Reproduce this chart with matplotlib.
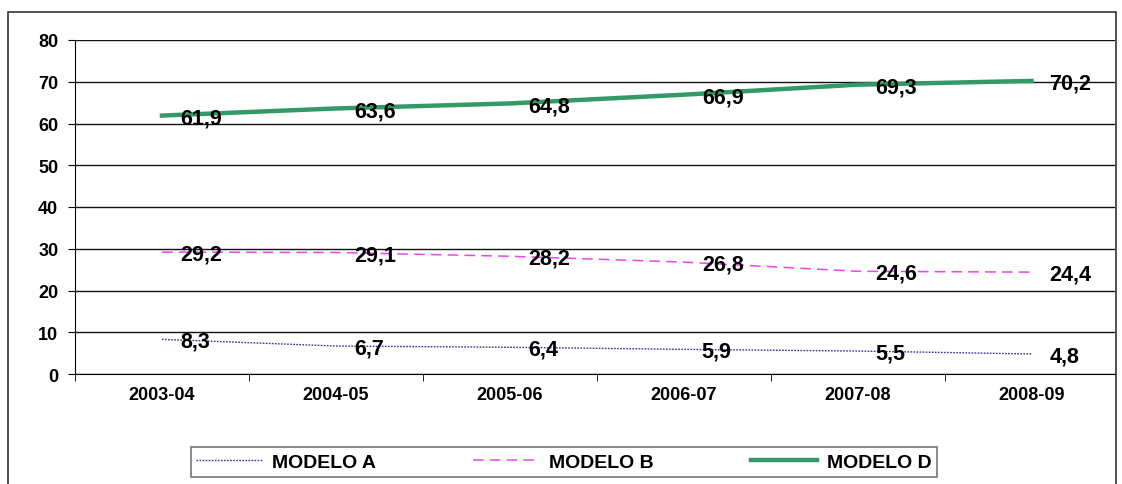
import numpy as np
import matplotlib.pyplot as plt
from matplotlib.patches import Rectangle
plt.rcParams.update({'font.family': ['Liberation Sans', 'DejaVu Sans'], 'font.weight': 'bold'})

years = ["2003-04", "2004-05", "2005-06", "2006-07", "2007-08", "2008-09"]
modelo_a = [8.3, 6.7, 6.4, 5.9, 5.5, 4.8]
modelo_b = [29.2, 29.1, 28.2, 26.8, 24.6, 24.4]
modelo_d = [61.9, 63.6, 64.8, 66.9, 69.3, 70.2]

labels = ["MODELO A", "MODELO B", "MODELO D"]
colors = ["#333399", "#ee44ee", "#339966"]

fig = plt.figure(figsize=(11.22, 4.85), dpi=100)
fig.patches.append(Rectangle((8/1122, -0.1), 1108/1122, 1.1 - 13/485, transform=fig.transFigure,
                             fill=False, edgecolor="#333333", linewidth=1.2))

ax = fig.add_axes([75/1122, 1 - 375/485, 1040/1122, 334/485])
x = np.arange(len(years))

ax.plot(x, modelo_a, color=colors[0], linestyle=(0, (1.2, 1.0)), linewidth=1.0, label=labels[0])
ax.plot(x, modelo_b, color=colors[1], linestyle=(0, (7, 4)), linewidth=1.1, label=labels[1])
ax.plot(x, modelo_d, color=colors[2], linewidth=3.2, label=labels[2])

for series in [modelo_a, modelo_b, modelo_d]:
    for i, v in enumerate(series):
        ax.annotate(str(v).replace(".", ","), (x[i], v), xytext=(13, -1.5), textcoords="offset points",
                    ha="left", va="center", fontsize=15.5, fontweight="bold")

ax.set_xlim(-0.5, len(years) - 0.5 - 0.02)
ax.set_ylim(0, 80)
ax.set_yticks(np.arange(0, 81, 10))
ax.set_xticks(x)
ax.set_xticklabels(years, fontsize=13, fontweight="bold")
ax.set_xticks(np.arange(-0.5, len(years) - 0.6, 1), minor=True)
ax.tick_params(axis="x", which="major", length=0, pad=9)
ax.tick_params(axis="x", which="minor", length=5, direction="out")
ax.tick_params(axis="y", labelsize=13, length=5, direction="out", pad=7)
for lab in ax.get_yticklabels():
    lab.set_fontweight("bold")
ax.grid(axis="y", color="#111111", linewidth=1.0)
ax.set_axisbelow(True)
for s in ["top", "right"]:
    ax.spines[s].set_visible(False)

leg = fig.legend(loc="center", bbox_to_anchor=(564/1122, 1 - 463/485), ncol=3, frameon=True,
                 fancybox=False, edgecolor="#555555", fontsize=14, handlelength=3.4,
                 handletextpad=0.5, columnspacing=5.0, borderpad=0.3, borderaxespad=0)
leg.get_frame().set_linewidth(1.2)
for t in leg.get_texts():
    t.set_fontweight("bold")

fig.savefig("out.png", dpi=100)
